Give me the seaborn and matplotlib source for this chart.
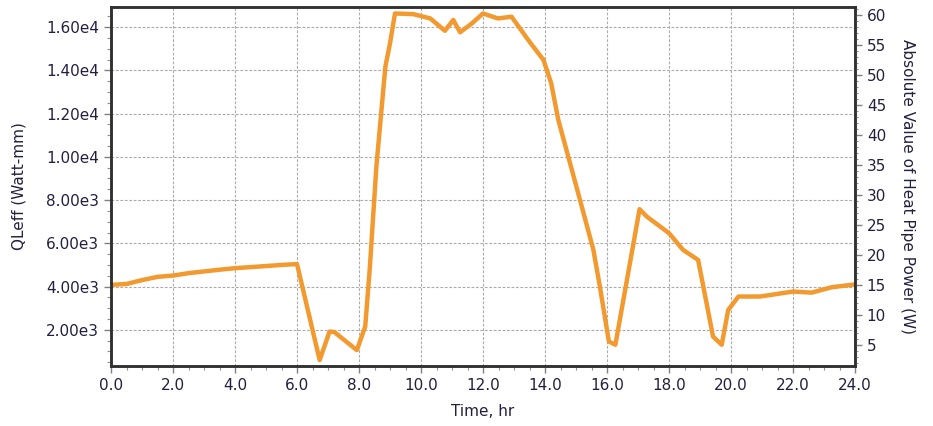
import seaborn as sns
import matplotlib.pyplot as plt
import matplotlib.ticker as mticker
import pandas as pd

# Time (hr) and QLeff (Watt-mm)
time_hr = [0.0, 0.5, 1.0, 1.5, 2.0, 2.5, 3.0, 3.5, 4.0, 4.5, 5.0, 5.5, 6.0,
           6.73, 7.05, 7.2, 7.93, 8.2, 8.35, 8.56, 8.85, 9.0, 9.16, 9.75,
           10.3, 10.77, 11.04, 11.26, 11.64, 12.0, 12.48, 12.92, 13.46, 13.95,
           14.2, 14.43, 15.13, 15.56, 15.77, 16.06, 16.27, 17.05, 17.28, 18.0,
           18.45, 18.94, 19.42, 19.7, 19.91, 20.24, 20.94, 22.0, 22.6, 23.25, 24.0]
qleff = [4080, 4120, 4300, 4450, 4510, 4620, 4700, 4780, 4850, 4900, 4950, 5000, 5040,
         600, 1920, 1900, 1060, 2150, 4900, 9550, 14170, 15250, 16630, 16600,
         16400, 15830, 16330, 15760, 16170, 16630, 16400, 16480, 15400, 14480,
         13400, 11700, 8000, 5700, 4000, 1460, 1310, 7580, 7240, 6470,
         5700, 5230, 1690, 1310, 2920, 3540, 3540, 3770, 3720, 3970, 4100]

left_ticks = [2000, 4000, 6000, 8000, 10000, 12000, 14000, 16000]
left_labels = ["2.00e3", "4.00e3", "6.00e3", "8.00e3", "1.00e4", "1.20e4", "1.40e4", "1.60e4"]
right_ticks = [5, 10, 15, 20, 25, 30, 35, 40, 45, 50, 55, 60]
x_ticks = [0, 2, 4, 6, 8, 10, 12, 14, 16, 18, 20, 22, 24]

df = pd.DataFrame({"Time": time_hr, "QLeff": qleff})

sns.set_style("white")
plt.rcParams["font.family"] = ["DejaVu Sans"]
txt = "#23203f"

fig = plt.figure(figsize=(9.33, 4.26), dpi=100)
ax = fig.add_axes([0.119, 0.141, 0.7974, 0.8426])

sns.lineplot(data=df, x="Time", y="QLeff", ax=ax, color="#F29A30", linewidth=3.2)

ax.set_xlim(0, 24)
ax.set_ylim(330, 16930)
ax.set_xticks(x_ticks)
ax.set_xticklabels([f"{v:.1f}" for v in x_ticks])
ax.xaxis.set_minor_locator(mticker.MultipleLocator(0.5))
ax.set_yticks(left_ticks)
ax.set_yticklabels(left_labels)
ax.yaxis.set_minor_locator(mticker.MultipleLocator(500))
ax.grid(True, which="major", color="#ababab", linestyle=(0, (2.5, 1.5)), linewidth=0.8)

ax.set_xlabel("Time, hr", fontsize=11, color=txt, labelpad=8)
ax.set_ylabel("QLeff (Watt-mm)", fontsize=11, color=txt, labelpad=14)
ax.tick_params(which="major", direction="out", length=5, width=1, color="#808080",
               labelsize=11, labelcolor=txt, left=True, bottom=True)
ax.tick_params(which="minor", direction="out", length=3, width=0.8, color="#909090",
               left=True, bottom=True)

for s in ax.spines.values():
    s.set_color("#303030")
    s.set_linewidth(1.8)

ax2 = ax.twinx()
ax2.set_ylim(1.5, 61.3)
ax2.set_yticks(right_ticks)
ax2.yaxis.set_minor_locator(mticker.MultipleLocator(1))
ax2.tick_params(which="major", direction="out", length=5, width=1, color="#808080",
                labelsize=11, labelcolor=txt, right=True)
ax2.tick_params(which="minor", direction="out", length=2.5, width=0.8, color="#909090", right=True)
ax2.set_ylabel("Absolute Value of Heat Pipe Power (W)", fontsize=11, color=txt,
               rotation=270, labelpad=21)
for s in ax2.spines.values():
    s.set_color("#303030")
    s.set_linewidth(1.8)

fig.savefig("out.png", dpi=100, facecolor="white")
